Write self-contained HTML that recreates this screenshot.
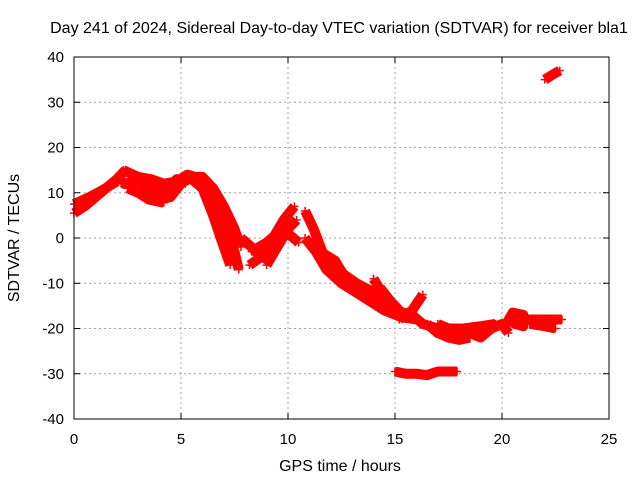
<!DOCTYPE html>
<html><head><meta charset="utf-8"><style>
body{margin:0;background:#fff;}
svg{display:block;font-family:"Liberation Sans",sans-serif;}
</style></head><body>
<svg id="chart" width="640" height="480" xmlns="http://www.w3.org/2000/svg">
<rect width="640" height="480" fill="#fff"/>
<text x="339" y="33" font-size="16" text-anchor="middle" fill="#000">Day 241 of 2024, Sidereal Day-to-day VTEC variation (SDTVAR) for receiver bla1</text>
<text x="340" y="471" font-size="16" text-anchor="middle">GPS time / hours</text>
<text x="19" y="238" font-size="16" text-anchor="middle" transform="rotate(-90 19 238)">SDTVAR / TECUs</text>
<g id="grid"></g><g id="marks"></g><g id="axes"></g>
</svg>
<script>
const xTicks=[0,5,10,15,20,25];
const yTicks=[-40,-30,-20,-10,0,10,20,30,40];
const trackA=[[0,5.5],[0.5,7],[1,9],[1.5,11],[2,13],[2.4,15]];
const trackB=[[0,7.5],[0.7,9],[1.3,10.5],[2,12.5]];
const trackC=[[2.3,15],[3,13.5],[3.6,13],[4.2,12],[4.8,12.5],[5.3,14],[6,13],[6.5,11],[7,7],[7.5,2],[7.8,-2]];
const trackD=[[2.2,12],[3,12.5],[3.5,11],[4,8.5],[4.5,9],[5,12],[5.5,13.5],[6,13.5],[6.5,11],[6.8,6],[7.2,0],[7.5,-3],[7.7,-7]];
const trackE=[[2.5,11],[3,10],[3.5,8.5],[4,8],[4.2,7.8]];
const trackF=[[3.5,12.5],[4.2,10],[4.8,13],[5.2,12]];
const trackG=[[5.5,13],[6,11],[6.5,5],[7,-2],[7.3,-6]];
const trackH=[[6.3,12],[6.5,8],[6.8,2],[7.2,0]];
const trackI=[[8.2,-6],[8.8,-4],[9.3,0],[9.8,4],[10.3,7]];
const trackJ=[[8.3,-3],[9,-1],[9.5,1],[10,1],[10.5,-1]];
const trackK=[[7.8,0],[8.3,-2],[8.6,-3.5]];
const trackL=[[10.8,6],[11.2,2],[11.6,-3],[12,-7],[12.5,-8]];
const trackM=[[10.8,0],[11.3,-3],[11.8,-7],[12.5,-10],[13.5,-13],[14.5,-16],[15.3,-17.5],[16,-18]];
const trackN=[[11.5,-3],[12.2,-5],[12.7,-9],[13.3,-11]];
const trackO=[[14,-9],[14.5,-13],[15,-16],[15.8,-17],[16.3,-19],[17,-20],[17.8,-21],[18.2,-21]];
const trackP=[[15.2,-18],[15.8,-16],[16.3,-12.5]];
const trackQ=[[16.5,-19],[17,-21],[17.5,-22],[18,-22.5],[18.5,-22]];
const trackR=[[17,-19],[17.5,-20],[18.2,-20],[19,-19.5],[19.7,-19]];
const trackS=[[18.5,-21],[19,-22],[19.5,-20],[20,-19],[20.3,-21]];
const trackT=[[20.2,-19],[20.5,-16.5],[21,-17],[21,-19.5],[20.6,-19],[20.4,-17]];
const trackU=[[21.2,-18],[21.8,-18],[22.5,-18],[22.8,-18]];
const trackV=[[21.3,-19],[22,-19.5],[22.5,-20]];
const trackW=[[15,-29.5],[15.5,-30],[16,-30],[16.5,-30.3],[17,-29.5],[17.9,-29.5]];
const trackX=[[22,35],[22.4,36.2],[22.7,37]];
const trackY=[[5.8,12.5],[6.3,9],[6.7,4],[7,0],[7.4,-4]];
const trackZ=[[12,-5],[12.6,-8],[13.2,-10],[14,-12],[14.6,-14],[15.2,-16]];
const trackAA=[[14.3,-11],[14.8,-14],[15.4,-17],[16,-17.5]];
const trackAB=[[9,-6],[9.5,-2],[10,2],[10.4,4]];
const tracks=[trackA,trackB,trackC,trackD,trackE,trackF,trackG,trackH,trackI,trackJ,trackK,trackL,trackM,trackN,trackO,trackP,trackQ,trackR,trackS,trackT,trackU,trackV,trackW,trackX,trackY,trackZ,trackAA,trackAB];

const X0=74,X1=609,Y0=419,Y1=57;
const sx=v=>X0+(v-0)/(25-0)*(X1-X0);
const sy=v=>Y0-(v+40)/80*(Y0-Y1);
const NS="http://www.w3.org/2000/svg";
const grid=document.getElementById('grid'),axes=document.getElementById('axes'),marks=document.getElementById('marks');
function mk(tag,attrs,parent){const e=document.createElementNS(NS,tag);for(const k in attrs)e.setAttribute(k,attrs[k]);parent.appendChild(e);return e;}
xTicks.forEach(t=>{
  if(t>0&&t<25){const g=mk('line',{x1:sx(t),x2:sx(t),y1:Y1,y2:Y0,stroke:'#a0a0a0','stroke-dasharray':'2,3'},grid);
  
  }
  const l=mk('text',{x:sx(t),y:Y0+25,'font-size':15,'text-anchor':'middle'},axes);l.textContent=t;
  
  
  mk('line',{x1:sx(t),x2:sx(t),y1:Y0,y2:Y0-6,stroke:'#000'},axes);
  mk('line',{x1:sx(t),x2:sx(t),y1:Y1,y2:Y1+6,stroke:'#000'},axes);
});
yTicks.forEach(t=>{
  if(t>-40&&t<40){const g=mk('line',{x1:X0,x2:X1,y1:sy(t),y2:sy(t),stroke:'#a0a0a0','stroke-dasharray':'2,3'},grid);
  
  }
  const l=mk('text',{x:X0-10,y:sy(t)+5,'font-size':15,'text-anchor':'end'},axes);l.textContent=t;
  
  
  mk('line',{x1:X0,x2:X0+6,y1:sy(t),y2:sy(t),stroke:'#000'},axes);
  mk('line',{x1:X1,x2:X1-6,y1:sy(t),y2:sy(t),stroke:'#000'},axes);
});
const fr=mk('rect',{x:X0,y:Y1,width:X1-X0,height:Y0-Y1,fill:'none',stroke:'#000'},axes);


tracks.forEach(tr=>{
  const p=mk('polyline',{points:tr.map(d=>sx(d[0])+','+sy(d[1])).join(' '),fill:'none',stroke:'#ff0000','stroke-width':10,'stroke-linejoin':'round','stroke-linecap':'butt'},marks);
  
  
  tr.forEach(d=>{
    const m=mk('path',{d:`M${sx(d[0])-4},${sy(d[1])}h8M${sx(d[0])},${sy(d[1])-4}v8`,stroke:'#ff0000','stroke-width':1.5},marks);
    
    
  });
});
</script>
</body></html>
